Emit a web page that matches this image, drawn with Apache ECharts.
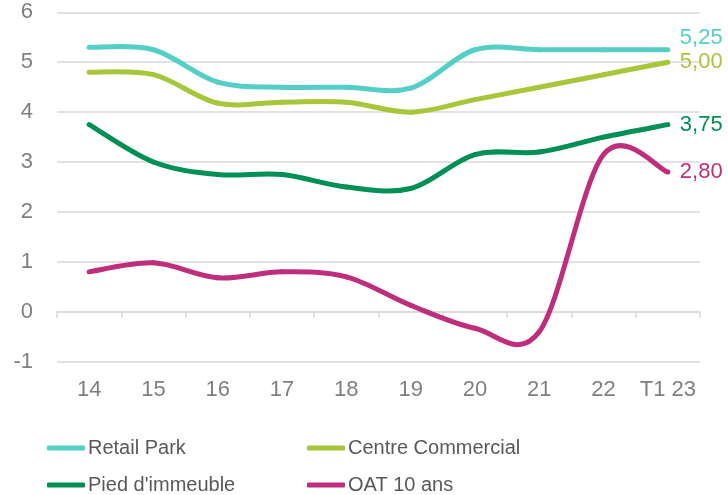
<!DOCTYPE html>
<html><head><meta charset="utf-8">
<script src="https://cdn.jsdelivr.net/npm/echarts@6/dist/echarts.min.js"></script>
<style>html,body{margin:0;padding:0;background:#fff}#c{width:728px;height:495px}</style>
</head><body><div id="c"></div>
<script>
const categories = ['14','15','16','17','18','19','20','21','22','T1 23'];
const retailPark = [5.3, 5.25, 4.6, 4.5, 4.5, 4.48, 5.25, 5.25, 5.25, 5.25];
const centreCommercial = [4.8, 4.75, 4.18, 4.2, 4.2, 4.0, 4.25, 4.5, 4.75, 5.0];
const piedImmeuble = [3.75, 3.0, 2.75, 2.75, 2.5, 2.47, 3.15, 3.2, 3.5, 3.75];
const oat10 = [0.8, 0.98, 0.68, 0.8, 0.7, 0.13, -0.33, -0.4, 3.15, 2.8];
const yTicks = [-1, 0, 1, 2, 3, 4, 5, 6];

const font = 'Liberation Sans, Arial, sans-serif';

// Smooth line drawn like a spreadsheet smoothed line (Catmull-Rom through the data points),
// positions come from the chart's own scales via api.coord.
function mk(name, values, color, labelDy) {
  const data = values.map((v, i) => [i, v]);
  return {
    name, type: 'custom', data, itemStyle: { color },
    encode: { x: 0, y: 1 },
    renderItem: function (params, api) {
      const i = params.dataIndex;
      const n = values.length;
      const P = k => api.coord([Math.max(0, Math.min(n - 1, k)), values[Math.max(0, Math.min(n - 1, k))]]);
      if (i === n - 1) {
        const p = P(i);
        return {
          type: 'text',
          style: {
            x: p[0] + 12, y: p[1] + (labelDy || 0), text: values[i].toFixed(2).replace('.', ','),
            fill: color, fontSize: 22, fontFamily: font,
            textAlign: 'left', textVerticalAlign: 'middle'
          }
        };
      }
      const p0 = P(i - 1), p1 = P(i), p2 = P(i + 1), p3 = P(i + 2);
      return {
        type: 'bezierCurve',
        shape: {
          x1: p1[0], y1: p1[1], x2: p2[0], y2: p2[1],
          cpx1: p1[0] + (p2[0] - p0[0]) / 6, cpy1: p1[1] + (p2[1] - p0[1]) / 6,
          cpx2: p2[0] - (p3[0] - p1[0]) / 6, cpy2: p2[1] - (p3[1] - p1[1]) / 6
        },
        style: { stroke: color, lineWidth: 5, fill: null, lineCap: 'round', lineJoin: 'round' }
      };
    }
  };
}
const chart = echarts.init(document.getElementById('c'));
const legendCommon = {
  orient: 'vertical', top: 437, height: 120, padding: 0, itemWidth: 38, itemHeight: 5, itemGap: 15,
  icon: 'roundRect',
  textStyle: { color: '#595959', fontSize: 20, fontFamily: font, lineHeight: 22, padding: [0, 0, 0, -2] }
};
chart.setOption({
  animation: false,
  grid: { left: 57, right: 28, top: 12.3, bottom: 133.3 },
  xAxis: [
    { type: 'category', data: categories, position: 'bottom',
      axisLine: { show: false, onZero: false }, axisTick: { show: false },
      axisLabel: { color: '#7f7f7f', fontSize: 22, fontFamily: font, margin: 17, interval: 0 } },
    { type: 'category', data: categories, position: 'bottom',
      axisLine: { show: true, onZero: true, lineStyle: { color: '#d9d9d9', width: 1.5 } },
      axisTick: { show: true, length: 6, lineStyle: { color: '#d9d9d9', width: 1.5 } },
      axisLabel: { show: false } }
  ],
  yAxis: {
    type: 'value', min: yTicks[0], max: yTicks[yTicks.length - 1], interval: 1,
    axisLine: { show: false }, axisTick: { show: false },
    splitLine: { lineStyle: { color: '#d9d9d9', width: 1.5 } },
    axisLabel: { color: '#7f7f7f', fontSize: 22, fontFamily: font, margin: 24 }
  },
  legend: [
    Object.assign({ left: 47, data: ['Retail Park', "Pied d'immeuble"] }, legendCommon),
    Object.assign({ left: 307, data: ['Centre Commercial', 'OAT 10 ans'] }, legendCommon)
  ],
  series: [
    mk('Retail Park', retailPark, '#55CFC6', -12),
    mk('Centre Commercial', centreCommercial, '#A7C63A', 0),
    mk("Pied d'immeuble", piedImmeuble, '#008F55', 0),
    mk('OAT 10 ans', oat10, '#BF2E7A', 0)
  ]
});
</script></body></html>
